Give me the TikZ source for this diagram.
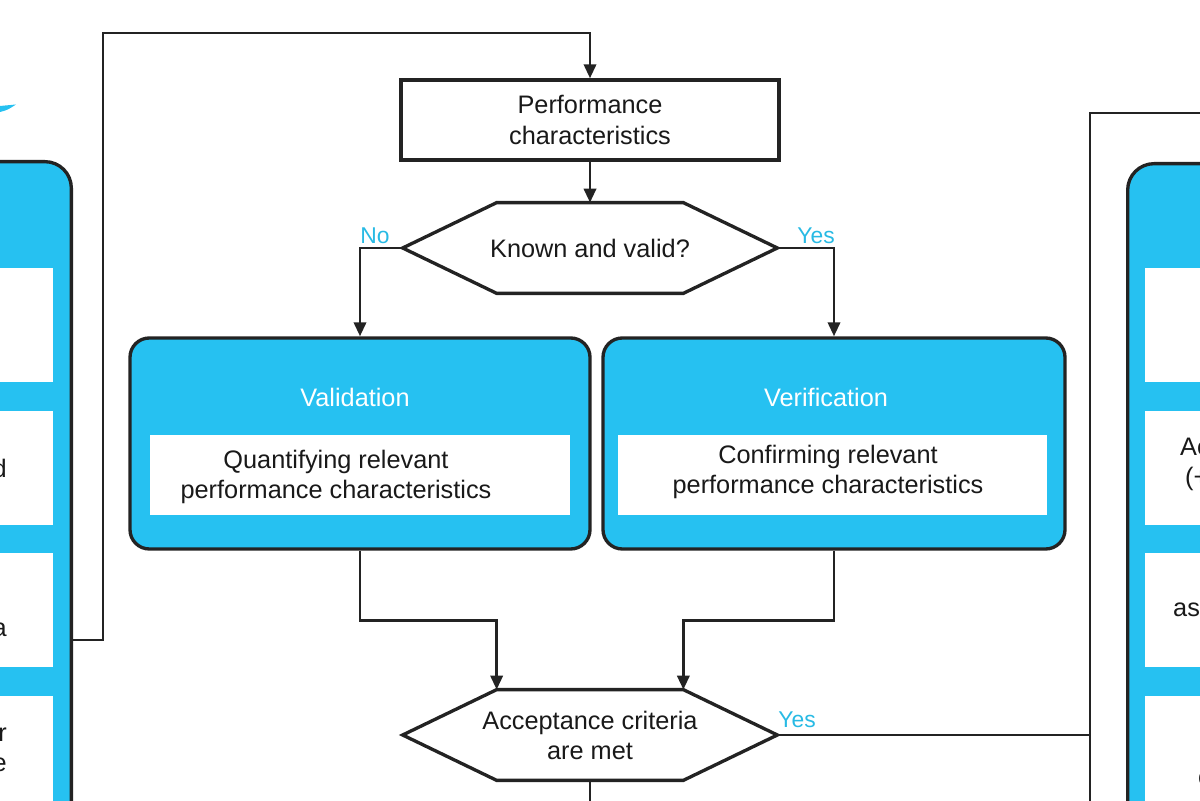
\documentclass[tikz,border=0pt]{standalone}
\usepackage{fontspec}
\setmainfont{Liberation Sans}
\usetikzlibrary{positioning, calc, arrows.meta}
\definecolor{procblue}{RGB}{38,193,241}
\definecolor{labelblue}{RGB}{40,186,228}
\definecolor{linegray}{RGB}{35,35,35}

\begin{document}
\begin{tikzpicture}[
        font=\fontsize{14.4}{17.1}\selectfont,
        line/.style={line width=1.6pt, draw=linegray},
        arrow/.style={line, -{Triangle[width=7pt,length=8pt]}},
        plainbox/.style={rectangle, draw=linegray, line width=1.9pt, fill=white, minimum width=7.56cm, minimum height=1.6cm, align=center, text=black!90},
        hexbox/.style={rectangle, minimum width=7.48cm, minimum height=1.8cm, align=center, inner sep=0pt, text=black!90},
        procbox/.style={rectangle, rounded corners=11pt, draw=linegray, line width=1.9pt, fill=procblue, minimum width=9.2cm, minimum height=4.22cm},
        panel/.style={procbox, rounded corners=15pt, minimum width=6cm, minimum height=14cm},
        proctitle/.style={text=white},
        procinner/.style={rectangle, fill=white, minimum width=8.4cm, minimum height=1.6cm},
        proctext/.style={align=center, text=black!90},
        answer/.style={text=labelblue, font=\fontsize{13}{15}\selectfont, inner sep=1pt}
    ]
        \useasboundingbox (0,0) rectangle (24,16);
        \clip (0,0) rectangle (24,16);

        % side panels, cut by the frame
        \fill[procblue] (0,13.76) .. controls (0.15,13.8) .. (0.32,13.91) -- (0,13.88) -- cycle;
        \node[panel, anchor=north east] (leftpanel) at (1.46,12.8) {};
        \node[panel, anchor=north west] (rightpanel) at (22.52,12.76) {};
        \foreach \i in {0,...,3} {
            \node[procinner, minimum width=4cm, minimum height=2.28cm, anchor=north east] (leftrow\i) at (1.06,{10.64-2.85*\i}) {};
            \node[procinner, minimum width=4cm, minimum height=2.28cm, anchor=north west] (rightrow\i) at (22.9,{10.64-2.85*\i}) {};
        }
        \node[proctext, anchor=east] (leftd) at (0.26,6.64) {d};
        \node[proctext, anchor=east] (lefta) at (0.26,3.4) {a};
        \node[proctext, anchor=east, align=right] (leftre) at (0.26,1.0) {r\\e};
        \node[proctext, anchor=west, align=left] (rightac) at (23.48,6.72) {Ac\\\hspace{0.1cm}(+};
        \node[proctext, anchor=west] (rightass) at (23.34,3.8) {ass};
        \node[proctext, anchor=west] (rightc) at (23.84,0.42) {c};

        % main flow
        \node[plainbox] (perf) at (11.8,13.6) {Performance\\characteristics};
        \node[hexbox] (known) at (11.8,11.04) {Known and valid?};
        \node[procbox] (valid) at (7.2,7.13) {};
        \node[procbox, minimum width=9.24cm] (verif) at (16.68,7.13) {};
        \node[proctitle] (validtitle) at (7.1,8.06) {Validation};
        \node[proctitle] (veriftitle) at (16.52,8.06) {Verification};
        \node[procinner] (validin) at (7.2,6.5) {};
        \node[procinner, minimum width=8.58cm] (verifin) at (16.65,6.5) {};
        \node[proctext] (validtext) at (6.72,6.46) {Quantifying relevant\\performance characteristics};
        \node[proctext] (veriftext) at (16.56,6.57) {Confirming relevant\\performance characteristics};
        \node[hexbox] (accept) at (11.8,1.3) {Acceptance criteria\\are met};

        \foreach \h in {known, accept}
            \draw[line, line width=1.9pt, line join=miter] ($(\h.north west)+(1.88,0)$) -- ($(\h.north east)+(-1.88,0)$) -- (\h.east)
                -- ($(\h.south east)+(-1.88,0)$) -- ($(\h.south west)+(1.88,0)$) -- (\h.west) -- cycle;

        \node[answer, above left=0.04cm and 0.22cm of known.west] (knownno) {No};
        \node[answer, above right=0.04cm and 0.36cm of known.east] (knownyes) {Yes};
        \node[answer, above right=0.1cm and -0.02cm of accept.east] (acceptyes) {Yes};

        \coordinate (leftout) at (1.46,3.2);
        \coordinate (lefttop) at (2.06,15.34);
        \coordinate (righttop) at (24.2,13.74);
        \coordinate (rightbot) at (21.8,-0.5);
        \coordinate (rightjoin) at (21.8,1.3);
        \coordinate (acceptout) at (11.8,-0.5);

        \draw[arrow] (leftout) -| (lefttop) -| (perf.north);
        \draw[arrow] (perf.south) -- (known.north);
        \draw[arrow] (known.west) -| (valid.north);
        \draw[arrow] (known.east) -| (verif.north);
        \draw[arrow] (valid.south) -- ++(0,-1.4) -| ($(accept.north west)+(1.88,0)$);
        \draw[arrow] (verif.south) -- ++(0,-1.4) -| ($(accept.north east)+(-1.88,0)$);
        \draw[line] (accept.south) -- (acceptout);
        \draw[line] (accept.east) -- (rightjoin);
        \draw[line] (righttop) -| (rightbot);
    \end{tikzpicture}
\end{document}
